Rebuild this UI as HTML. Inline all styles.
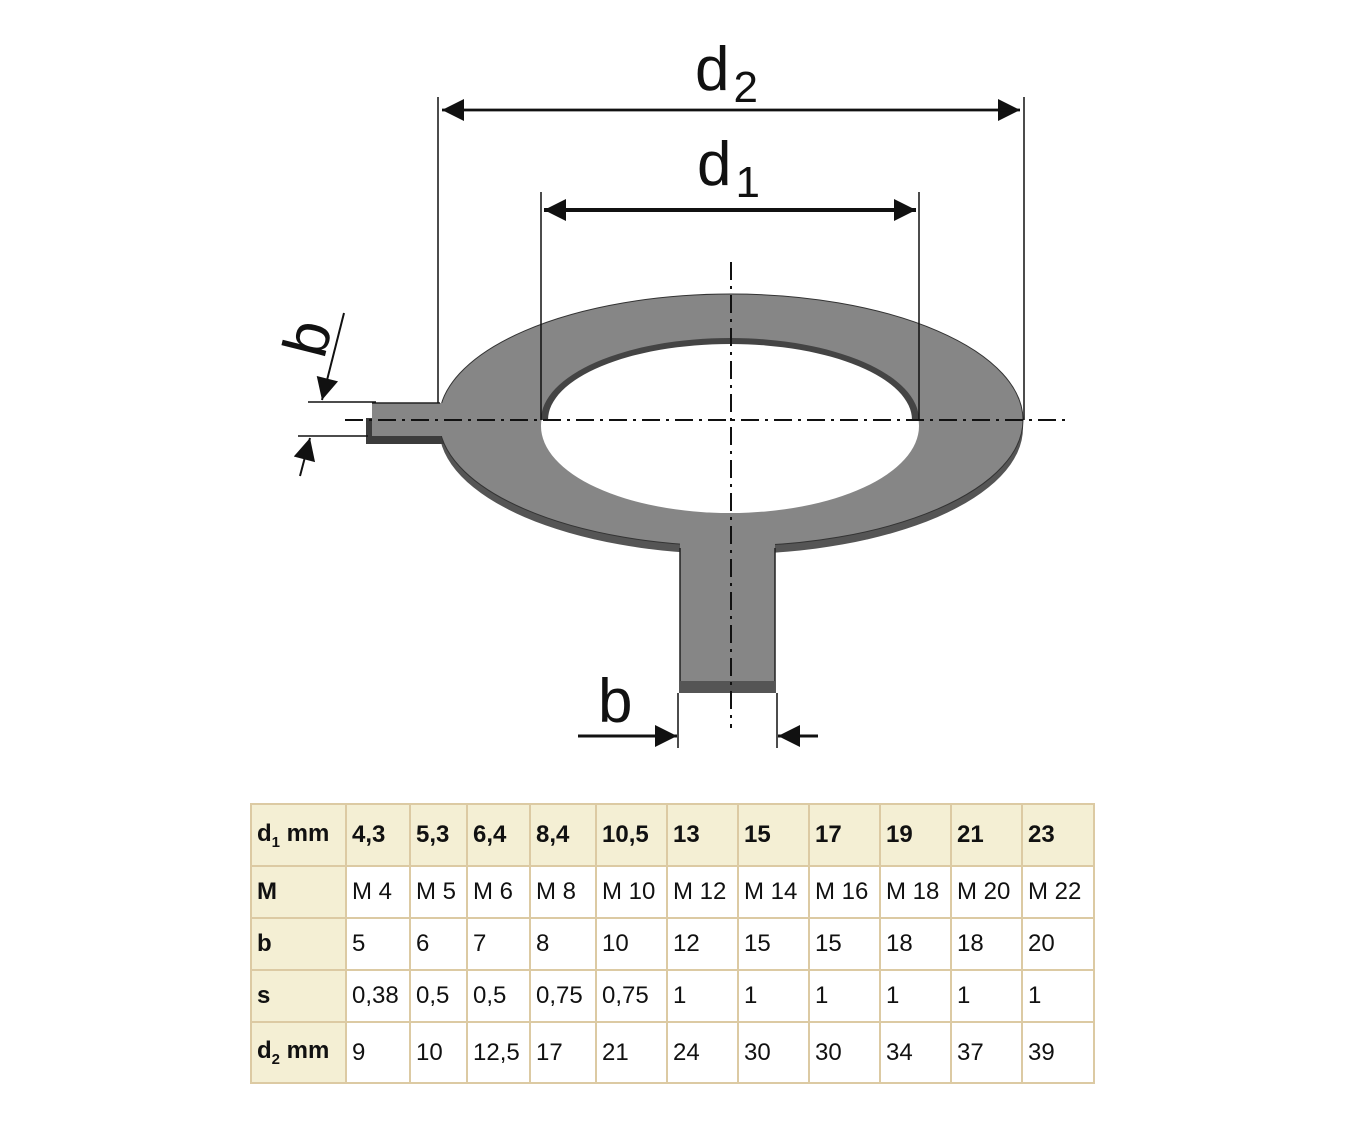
<!DOCTYPE html>
<html><head><meta charset="utf-8"><style>
body{margin:0;background:#fff;width:1348px;height:1124px;position:relative;overflow:hidden;font-family:"Liberation Sans",Arial,sans-serif}
svg{position:absolute;left:0;top:0}
table{position:absolute;left:250px;top:803px;border-collapse:collapse;font-size:24px;color:#111}
td{border:2px solid #dccaa3;padding:0 0 0 5px;text-align:left;vertical-align:middle;box-sizing:border-box;white-space:nowrap}
td.h{background:#f4efd4;font-weight:bold}
tr.r1 td{background:#f4efd4;font-weight:bold}
</style></head><body>
<svg width="1348" height="800" viewBox="0 0 1348 800">
<defs>
<marker id="a" viewBox="0 0 10 10" refX="10" refY="5" markerWidth="26" markerHeight="22" markerUnits="userSpaceOnUse" orient="auto"><path d="M0,0L10,5L0,10z" fill="#111"/></marker>
</defs>
<ellipse cx="731" cy="428" rx="292" ry="126" fill="#555"/>
<rect x="366" y="418" width="80" height="26" fill="#3c3c3c"/>
<ellipse cx="731" cy="420" rx="292" ry="126" fill="#868686" stroke="#333" stroke-width="1"/>
<rect x="372" y="403" width="80" height="33" fill="#868686"/>
<line x1="372" y1="403" x2="440" y2="403" stroke="#222" stroke-width="1.5"/>
<rect x="680" y="530" width="95" height="151" fill="#868686"/>
<line x1="680" y1="548" x2="680" y2="693" stroke="#222" stroke-width="1.5"/>
<line x1="775" y1="548" x2="775" y2="693" stroke="#222" stroke-width="1.5"/>
<rect x="680" y="681" width="95" height="12" fill="#555"/>
<ellipse cx="730" cy="426" rx="189" ry="87" fill="#fff"/>
<path d="M541,420 A189,82 0 0 1 919,420 L912,420 A182,76 0 0 0 548,420Z" fill="#444"/>
<g stroke="#111" fill="none">
<line x1="438" y1="97" x2="438" y2="403" stroke-width="1.5"/>
<line x1="1024" y1="97" x2="1024" y2="420" stroke-width="1.5"/>
<line x1="442" y1="110" x2="1020" y2="110" stroke-width="2.5" marker-end="url(#a)"/>
<line x1="1020" y1="110" x2="442" y2="110" stroke-width="2.5" marker-end="url(#a)"/>
<line x1="541" y1="192" x2="541" y2="420" stroke-width="1.5"/>
<line x1="919" y1="192" x2="919" y2="420" stroke-width="1.5"/>
<line x1="544" y1="210" x2="916" y2="210" stroke-width="4" marker-end="url(#a)"/>
<line x1="916" y1="210" x2="544" y2="210" stroke-width="4" marker-end="url(#a)"/>
<line x1="678" y1="693" x2="678" y2="748" stroke-width="1.5"/>
<line x1="777" y1="693" x2="777" y2="748" stroke-width="1.5"/>
<line x1="578" y1="736" x2="677" y2="736" stroke-width="3" marker-end="url(#a)"/>
<line x1="818" y1="736" x2="778" y2="736" stroke-width="3" marker-end="url(#a)"/>
<line x1="308" y1="402" x2="376" y2="402" stroke-width="1.5"/>
<line x1="298" y1="436" x2="368" y2="436" stroke-width="1.5"/>
<line x1="344" y1="313" x2="322" y2="400" stroke-width="2" marker-end="url(#a)"/>
<line x1="300" y1="476" x2="310" y2="438" stroke-width="2" marker-end="url(#a)"/>
<line x1="345" y1="420" x2="1070" y2="420" stroke-width="2" stroke-dasharray="18,6,3,6"/>
<line x1="731" y1="262" x2="731" y2="728" stroke-width="2" stroke-dasharray="18,6,3,6"/>
</g>
<g font-family="Liberation Sans,Arial,sans-serif" fill="#111">
<text x="695" y="90" font-size="62">d<tspan font-size="44" dx="4" dy="12">2</tspan></text>
<text x="697" y="185" font-size="62">d<tspan font-size="44" dx="4" dy="12">1</tspan></text>
<text x="598" y="722" font-size="62">b</text>
<text font-size="62" transform="translate(324,360) rotate(-76)">b</text>
</g>
</svg>
<table>
<colgroup><col style="width:95px"><col style="width:64px"><col style="width:57px"><col style="width:63px"><col style="width:66px"><col style="width:71px"><col style="width:71px"><col style="width:71px"><col style="width:71px"><col style="width:71px"><col style="width:71px"><col style="width:72px"></colgroup>
<tr class="r1" style="height:62px"><td>d<sub style="font-size:15px">1</sub> mm</td><td>4,3</td><td>5,3</td><td>6,4</td><td>8,4</td><td>10,5</td><td>13</td><td>15</td><td>17</td><td>19</td><td>21</td><td>23</td></tr>
<tr style="height:52px"><td class="h">M</td><td>M 4</td><td>M 5</td><td>M 6</td><td>M 8</td><td>M 10</td><td>M 12</td><td>M 14</td><td>M 16</td><td>M 18</td><td>M 20</td><td>M 22</td></tr>
<tr style="height:52px"><td class="h">b</td><td>5</td><td>6</td><td>7</td><td>8</td><td>10</td><td>12</td><td>15</td><td>15</td><td>18</td><td>18</td><td>20</td></tr>
<tr style="height:52px"><td class="h">s</td><td>0,38</td><td>0,5</td><td>0,5</td><td>0,75</td><td>0,75</td><td>1</td><td>1</td><td>1</td><td>1</td><td>1</td><td>1</td></tr>
<tr style="height:61px"><td class="h">d<sub style="font-size:15px">2</sub> mm</td><td>9</td><td>10</td><td>12,5</td><td>17</td><td>21</td><td>24</td><td>30</td><td>30</td><td>34</td><td>37</td><td>39</td></tr>
</table>
</body></html>
